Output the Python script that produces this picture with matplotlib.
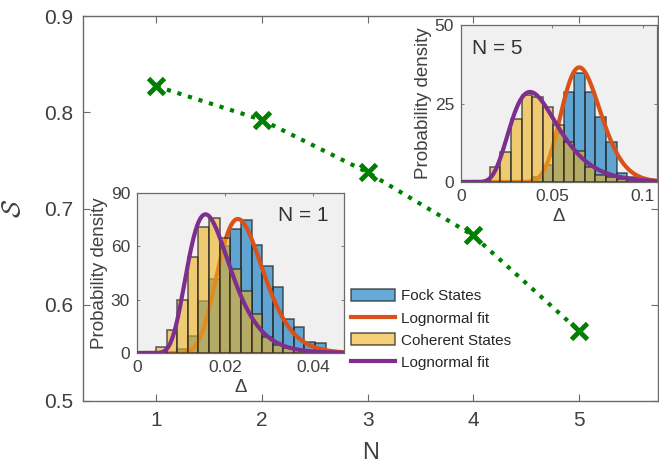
import numpy as np
import matplotlib
matplotlib.use("Agg")
import matplotlib.pyplot as plt
from matplotlib.patches import Patch
from matplotlib.lines import Line2D

plt.rcParams['font.family'] = ['Liberation Sans', 'DejaVu Sans']
plt.rcParams['mathtext.fontset'] = 'cm'

# ---- main data ----
N_vals = [1, 2, 3, 4, 5]
S_vals = [0.827, 0.792, 0.7375, 0.672, 0.573]

# ---- inset N = 1 ----
n1_edges = [0.0043, 0.0067, 0.0091, 0.0115, 0.0139, 0.0164, 0.0188, 0.0212, 0.0236,
            0.0260, 0.0284, 0.0308, 0.0332, 0.0356, 0.0380, 0.0405, 0.0429, 0.0453]
n1_coherent = [3.6, 13, 30, 54, 71, 76, 64.5, 47, 35, 22, 9, 4.6, 2.6, 1.5, 0.8, 0.5, 0.3]
n1_fock = [0, 0.3, 2, 9.6, 29, 41.5, 60, 70, 75, 61, 49, 37, 19, 14.4, 6.4, 5.8, 1.2]
n1_fock_fit = (-3.726, 0.2253)      # (mu, sigma) of lognormal
n1_coh_fit = (-4.066, 0.3133)

# ---- inset N = 5 ----
n5_edges = [0.0159, 0.0217, 0.0275, 0.0333, 0.0391, 0.0449, 0.0507, 0.0565, 0.0623,
            0.0681, 0.0739, 0.0797, 0.0855, 0.0913, 0.0971]
n5_coherent = [4.7, 9.6, 20, 27.7, 27, 23.8, 18, 12.8, 9.8, 4.7, 2.2, 1.7, 1.0, 0.5]
n5_fock = [0, 0, 0, 0, 1.7, 5.4, 15.5, 28.8, 34.8, 28.6, 20.7, 12.6, 3, 1.5]
n5_fock_fit = (-2.706, 0.1659)
n5_coh_fit = (-3.153, 0.3456)

legend_labels = ['Fock States', 'Lognormal fit', 'Coherent States', 'Lognormal fit']

# ---- styles ----
GREEN = '#008000'
BLUE = (0.0, 0.447, 0.741, 0.6)
ORANGE = '#D95319'
YELLOW = (0.929, 0.694, 0.125, 0.6)
PURPLE = '#7E2F8E'
EDGE = (0.15, 0.15, 0.15, 0.75)
SPINE = '#6a6a6a'
TXT = '#333333'


def lognpdf(x, mu, s):
    x = np.asarray(x, dtype=float)
    out = np.zeros_like(x)
    m = x > 0
    out[m] = np.exp(-(np.log(x[m]) - mu) ** 2 / (2 * s * s)) / (x[m] * s * np.sqrt(2 * np.pi))
    return out


fig = plt.figure(figsize=(6.59, 4.70), dpi=100)

ax = fig.add_axes([83 / 659, 69 / 470, 575 / 659, 385 / 470])
ax.plot(N_vals, S_vals, color=GREEN, ls=':', lw=3, marker='x', ms=12, mew=3.5)
ax.set_xlim(0.305, 5.75)
ax.set_ylim(0.5, 0.9)
ax.set_xticks([1, 2, 3, 4, 5])
ax.set_yticks([0.5, 0.6, 0.7, 0.8, 0.9])
ax.set_yticklabels(['0.5', '0.6', '0.7', '0.8', '0.9'])
ax.tick_params(direction='in', length=5, width=0.8, colors=SPINE, labelcolor='#404040',
               labelsize=15, top=True, right=True, pad=7)
for sp in ax.spines.values():
    sp.set_color(SPINE)
    sp.set_linewidth(1.0)
ax.set_xlabel('N', fontsize=17, color='#404040', labelpad=9)
ax.set_ylabel(r'$\mathcal{S}$', fontsize=19, color='#404040', labelpad=14)


def make_inset(rect, edges, coh, fock, ffit, cfit, xlim, ylim, xticks, xtl, yticks, label, lpos, lha):
    ia = fig.add_axes(rect)
    ia.set_facecolor('#F0F0F0')
    edges = np.asarray(edges)
    lefts = edges[:-1]
    widths = np.diff(edges)
    ia.bar(lefts, fock, width=widths, align='edge', color=BLUE, edgecolor=EDGE, linewidth=1.1, zorder=2)
    xx = np.linspace(0, xlim[1], 600)
    ia.plot(xx, lognpdf(xx, *ffit), color=ORANGE, lw=3, zorder=3)
    ia.bar(lefts, coh, width=widths, align='edge', color=YELLOW, edgecolor=EDGE, linewidth=1.1, zorder=4)
    ia.plot(xx, lognpdf(xx, *cfit), color=PURPLE, lw=3, zorder=5)
    ia.set_xlim(*xlim)
    ia.set_ylim(*ylim)
    ia.set_xticks(xticks)
    ia.set_xticklabels(xtl)
    ia.set_yticks(yticks)
    ia.tick_params(direction='in', length=2, width=0.6, colors=SPINE, labelcolor='#404040',
                   labelsize=12.5, top=True, right=True, pad=5)
    for sp in ia.spines.values():
        sp.set_color(SPINE)
        sp.set_linewidth(0.9)
    ia.set_xlabel('Δ', fontsize=13.5, color='#404040', labelpad=3)
    ia.set_ylabel('Probability density', fontsize=13.5, color='#404040', labelpad=2)
    ia.text(lpos[0], lpos[1], label, transform=ia.transAxes, ha=lha, va='center',
            fontsize=15, color=TXT, zorder=6)
    return ia


ia1 = make_inset([137 / 659, 117 / 470, 207 / 659, 160 / 470], n1_edges, n1_coherent, n1_fock,
                 n1_fock_fit, n1_coh_fit, (0, 0.047), (0, 90), [0, 0.02, 0.04],
                 ['0', '0.02', '0.04'], [0, 30, 60, 90], 'N = 1', (0.925, 0.86), 'right')
ia2 = make_inset([461 / 659, 288 / 470, 196 / 659, 157 / 470], n5_edges, n5_coherent, n5_fock,
                 n5_fock_fit, n5_coh_fit, (0, 0.1077), (0, 50), [0, 0.05, 0.1],
                 ['0', '0.05', '0.1'], [0, 25, 50], 'N = 5', (0.055, 0.85), 'left')

handles = [Patch(facecolor=BLUE, edgecolor=EDGE, linewidth=1.1),
           Line2D([], [], color=ORANGE, lw=3),
           Patch(facecolor=YELLOW, edgecolor=EDGE, linewidth=1.1),
           Line2D([], [], color=PURPLE, lw=3)]
leg = fig.legend(handles, legend_labels, loc='upper left', bbox_to_anchor=(345 / 659, 1 - 283 / 470),
                 frameon=False, fontsize=11, handlelength=2.9, handleheight=0.85,
                 handletextpad=0.35, labelspacing=0.5, borderpad=0.4, borderaxespad=0)
for t in leg.get_texts():
    t.set_color('#262626')

fig.savefig('out.png', dpi=100)
